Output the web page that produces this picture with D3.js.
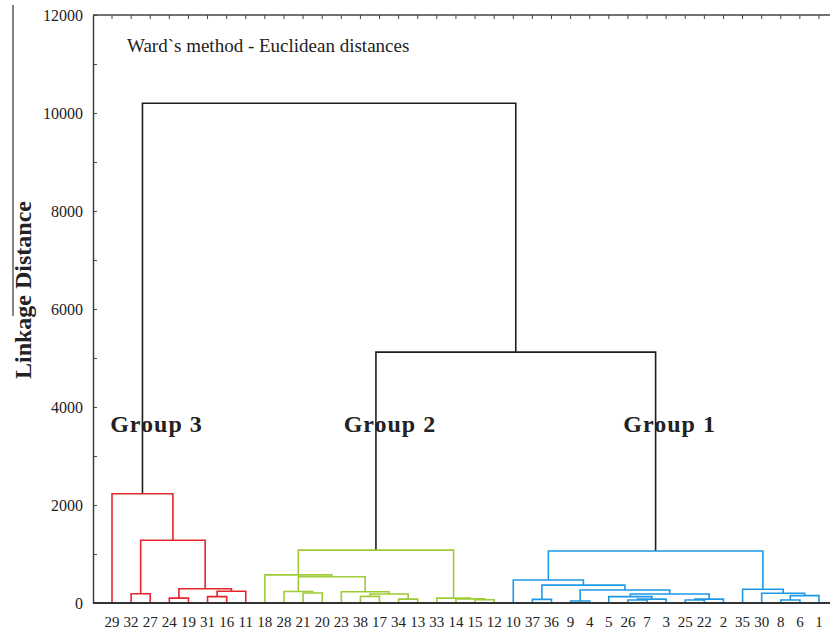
<!DOCTYPE html>
<meta charset="utf-8">
<script src="https://d3js.org/d3.v7.min.js"></script>
<style>
  body { margin: 0; background: #fff; }
  text { font-family: "Liberation Serif", "Times New Roman", serif; fill: #222; }
</style>

<div id="my_dataviz"></div>

<script>

// leaves in the order they appear along the bottom
var leafOrder = ["29","32","27","24","19","31","16","11",
                 "18","28","21","20","23","38","17","34","13","33","14","15","12",
                 "10","37","36","9","4","5","26","7","3","25","22","2","35","30","8","6","1"];

// merges: [cluster id, left, right, linkage distance]
var merges = [
  // group 3
  ["a1", "32", "27", 190],
  ["a2", "24", "19", 100],
  ["a3", "31", "16", 130],
  ["a4", "a3", "11", 240],
  ["a5", "a2", "a4", 290],
  ["a6", "a1", "a5", 1280],
  ["g3", "29", "a6", 2230],
  // group 2
  ["b1", "21", "20", 205],
  ["b2", "28", "b1", 235],
  ["b3", "38", "17", 135],
  ["b4", "34", "13", 80],
  ["b5", "b3", "b4", 185],
  ["b6", "23", "b5", 230],
  ["b7", "b2", "b6", 535],
  ["b8", "18", "b7", 575],
  ["b9", "15", "12", 65],
  ["b10", "14", "b9", 85],
  ["b11", "33", "b10", 100],
  ["g2", "b8", "b11", 1080],
  // group 1
  ["c1", "37", "36", 75],
  ["c2", "9", "4", 40],
  ["c3", "26", "7", 60],
  ["c4", "c3", "3", 80],
  ["c5", "5", "c4", 130],
  ["c6", "25", "22", 60],
  ["c7", "c6", "2", 80],
  ["c8", "c5", "c7", 185],
  ["c9", "c2", "c8", 265],
  ["c10", "c1", "c9", 365],
  ["c11", "10", "c10", 470],
  ["c12", "8", "6", 60],
  ["c13", "c12", "1", 150],
  ["c14", "30", "c13", 200],
  ["c15", "35", "c14", 280],
  ["g1", "c11", "c15", 1060],
  // top
  ["t1", "g2", "g1", 5120],
  ["t0", "g3", "t1", 10200]
];

var groupNames = ["Group 3", "Group 2", "Group 1"];
var groupRoots = ["g3", "g2", "g1"];

var yTicks = [0, 2000, 4000, 6000, 8000, 10000, 12000];
var yMinorTicks = [1000, 3000, 5000, 7000, 9000, 11000];

// dimensions
var margin = {top: 15, right: 0, bottom: 28, left: 93},
    width = 830 - margin.left - margin.right,
    height = 631 - margin.top - margin.bottom;

var svg = d3.select("#my_dataviz")
  .append("svg")
    .attr("width", 830)
    .attr("height", 631);

var g = svg.append("g")
    .attr("transform", "translate(" + margin.left + "," + margin.top + ")");

// build the nested tree from the merge list
var nodes = {};
leafOrder.forEach(function(d) { nodes[d] = {name: d, h: 0}; });
merges.forEach(function(m) {
  nodes[m[0]] = {name: m[0], h: m[3], children: [nodes[m[1]], nodes[m[2]]]};
});
var rootData = nodes[merges[merges.length - 1][0]];

// scales
var x = d3.scaleBand()
  .domain(leafOrder)
  .range([9.45, 735.55]);

var y = d3.scaleLinear()
  .domain([0, 12000])
  .range([height, 0]);

var root = d3.hierarchy(rootData);
d3.cluster()
  .size([x.range()[1] - x.range()[0], 1])
  .separation(function() { return 1; })(root);
root.each(function(d) { d.px = x.range()[0] + d.x; });

// group membership
var color = d3.scaleOrdinal()
  .domain(groupNames)
  .range(["#e3262b", "#9fcc36", "#1f98e6"]);

root.each(function(d) { d.group = null; });
groupRoots.forEach(function(id, i) {
  root.each(function(d) {
    if (d.data.name === id) d.descendants().forEach(function(k) { k.group = groupNames[i]; });
  });
});

// frame
g.append("line")
  .attr("x1", 0).attr("x2", width).attr("y1", 0).attr("y2", 0)
  .attr("stroke", "#444").attr("stroke-width", 1.4);

// top ticks
g.append("g")
  .call(d3.axisTop(x).tickSizeInner(-4).tickSizeOuter(0).tickFormat(""))
  .call(function(s) { s.select(".domain").remove(); })
  .selectAll("line").attr("stroke", "#444");

// left axis
g.append("g")
  .call(d3.axisLeft(y).tickValues(yTicks).tickFormat(d3.format("d"))
          .tickSizeInner(-4).tickSizeOuter(0).tickPadding(10))
  .call(function(s) {
    s.select(".domain").attr("stroke", "#333").attr("stroke-width", 1.4);
    s.selectAll("line").attr("stroke", "#444");
    s.selectAll("text").style("font-size", "16px").attr("fill", "#2a2a2a");
  });

g.append("g")
  .call(d3.axisLeft(y).tickValues(yMinorTicks).tickSizeInner(-4).tickSizeOuter(0).tickFormat(""))
  .call(function(s) {
    s.select(".domain").remove();
    s.selectAll("line").attr("stroke", "#444");
  });

// leaf labels
g.append("g")
  .attr("transform", "translate(0," + height + ")")
  .call(d3.axisBottom(x).tickSize(0).tickPadding(13))
  .call(function(s) {
    s.select(".domain").remove();
    s.selectAll("text").style("font-size", "15px").attr("fill", "#222");
  });

// dendrogram links: one elbow per merge
g.selectAll(".link")
  .data(root.descendants().filter(function(d) { return d.children; }))
  .enter()
  .append("path")
    .attr("class", "link")
    .attr("d", function(d) {
      var a = d.children[0], b = d.children[1];
      return "M" + a.px + "," + y(a.data.h) +
             "V" + y(d.data.h) +
             "H" + b.px +
             "V" + y(b.data.h);
    })
    .attr("fill", "none")
    .attr("stroke", function(d) { return d.group ? color(d.group) : "#1e1e1e"; })
    .attr("stroke-width", 1.6);

// bottom line
g.append("line")
  .attr("x1", 0).attr("x2", width).attr("y1", height).attr("y2", height)
  .attr("stroke", "#333").attr("stroke-width", 2.2);

// group labels
groupRoots.forEach(function(id, i) {
  var node = root.descendants().filter(function(d) { return d.data.name === id; })[0];
  g.append("text")
    .attr("x", node.px + 14)
    .attr("y", y(3500))
    .attr("text-anchor", "middle")
    .style("font-size", "24px")
    .style("font-weight", "bold")
    .style("letter-spacing", "1px")
    .attr("fill", "#1a1a1a")
    .text(groupNames[i]);
});

// title
svg.append("text")
  .attr("x", 127)
  .attr("y", 52)
  .style("font-size", "19px")
  .text("Ward`s method - Euclidean distances");

// y axis title
svg.append("line")
  .attr("x1", 13).attr("x2", 13).attr("y1", 5).attr("y2", 316)
  .attr("stroke", "#333").attr("stroke-width", 1.2);

svg.append("text")
  .attr("transform", "translate(31,290) rotate(-90)")
  .attr("text-anchor", "middle")
  .style("font-size", "24px")
  .style("font-weight", "bold")
  .attr("fill", "#111")
  .text("Linkage Distance");

</script>
